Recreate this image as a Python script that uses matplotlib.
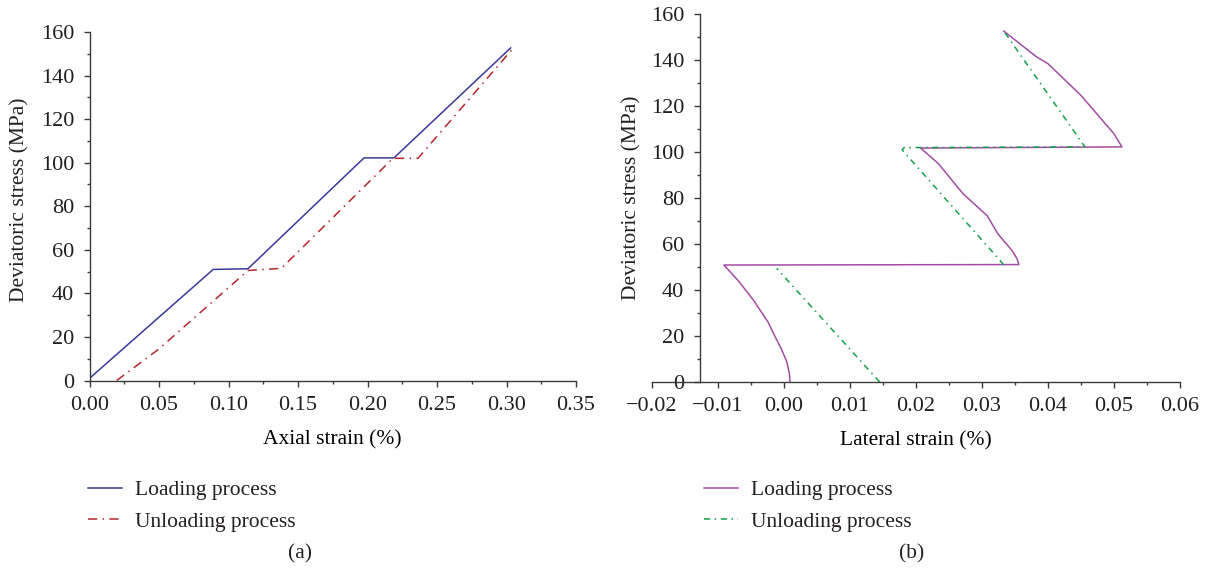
import matplotlib
matplotlib.use("Agg")
import matplotlib.pyplot as plt
from matplotlib.ticker import MultipleLocator, FixedLocator
import numpy as np

# ---- data: axial strain vs deviatoric stress (panel a) ----
axial_load_x = [0.0, 0.089, 0.114, 0.1975, 0.219, 0.303]
axial_load_y = [1.0, 51.0, 51.3, 102.2, 102.2, 152.7]
axial_unload_x = [0.0196, 0.050, 0.090, 0.114, 0.138, 0.2183, 0.2363, 0.305]
axial_unload_y = [0.0, 14.5, 37.0, 50.5, 51.5, 102.0, 102.0, 152.7]

# ---- data: lateral strain vs deviatoric stress (panel b) ----
lateral_load_x = [0.0009, 0.0008, 0.0004, -0.0005, -0.0014, -0.0024, -0.0046,
                  -0.0069, -0.0091, 0.0356, 0.0353, 0.0346, 0.0324, 0.0308,
                  0.0271, 0.0234, 0.0207, 0.0512, 0.0500, 0.0491, 0.0450,
                  0.0400, 0.0383, 0.0333]
lateral_load_y = [0.3, 4.0, 9.0, 15.0, 20.0, 26.0, 35.5,
                  44.0, 50.9, 51.1, 53.7, 57.0, 64.5, 72.3,
                  82.0, 95.0, 101.8, 102.3, 108.0, 111.0, 124.7,
                  138.5, 141.4, 152.7]
lateral_unload_x = [0.0145, -0.0011, np.nan, 0.0333, 0.0327, 0.0179, 0.0182,
                    0.0456, 0.0333]
lateral_unload_y = [0.0, 49.4, np.nan, 50.9, 53.0, 101.0, 102.0, 102.3, 152.7]

stress_ticks = list(range(0, 161, 20))
axial_ticks = [0.00, 0.05, 0.10, 0.15, 0.20, 0.25, 0.30, 0.35]
lateral_ticks = [-0.02, -0.01, 0.00, 0.01, 0.02, 0.03, 0.04, 0.05, 0.06]

labels = ["Loading process", "Unloading process"]
ylabel = "Deviatoric stress (MPa)"

plt.rcParams["font.family"] = ["Liberation Serif", "DejaVu Serif"]
plt.rcParams["text.color"] = "#231f20"

W, H = 1206, 576
fig = plt.figure(figsize=(W / 100, H / 100), dpi=100)

spine_col = "#3a3a3a"
tick_fs = 16
label_fs = 15.5


def style_axes(ax):
    for s in ("top", "right"):
        ax.spines[s].set_visible(False)
    for s in ("left", "bottom"):
        ax.spines[s].set_color(spine_col)
        ax.spines[s].set_linewidth(1.0)
    ax.tick_params(which="major", direction="out", length=4, width=1.0,
                   color=spine_col, labelsize=tick_fs, labelcolor="#231f20")
    ax.tick_params(axis="x", which="major", pad=7)
    ax.tick_params(axis="y", which="major", pad=7)
    ax.tick_params(which="minor", direction="out", length=2.5, width=1.0,
                   color=spine_col)


# panel (a)
ax1 = fig.add_axes([89.5 / W, 1 - 380.5 / H, (576 - 89.5) / W, 348.5 / H])
ax1.plot(axial_load_x, axial_load_y, color="#39399b", lw=1.1,
         label=labels[0])
ax1.plot(axial_unload_x, axial_unload_y, color="#b3262c", lw=1.1,
         linestyle=(0, (6, 3.5, 1, 3.5)), label=labels[1])
ax1.set_xlim(0, 0.35)
ax1.set_ylim(0, 160)
ax1.set_xticks(axial_ticks)
ax1.set_xticklabels([f"{t:.2f}" for t in axial_ticks])
ax1.set_yticks(stress_ticks)
ax1.xaxis.set_minor_locator(MultipleLocator(0.025))
ax1.yaxis.set_minor_locator(MultipleLocator(10))
style_axes(ax1)
ax1.set_xlabel("Axial strain (%)", fontsize=label_fs, labelpad=11)

# panel (b)
ax2 = fig.add_axes([652 / W, 1 - 382 / H, 528 / W, (382 - 14.3) / H])
ax2.plot(lateral_load_x, lateral_load_y, color="#a34ba6", lw=1.1,
         label=labels[0])
ax2.plot(lateral_unload_x, lateral_unload_y, color="#12a24a", lw=1.1,
         linestyle=(0, (4, 3, 1, 3)), label=labels[1])
ax2.set_xlim(-0.02, 0.06)
ax2.set_ylim(0, 160)
ax2.spines["left"].set_position(("data", -0.0128))
ax2.set_xticks(lateral_ticks)
ax2.set_xticklabels([f"{t:.2f}".replace("-", "\u2212") for t in lateral_ticks])
ax2.set_yticks(stress_ticks)
ax2.xaxis.set_minor_locator(FixedLocator(np.arange(-0.005, 0.06, 0.01)))
ax2.yaxis.set_minor_locator(MultipleLocator(10))
style_axes(ax2)
ax2.set_xlabel("Lateral strain (%)", fontsize=label_fs, labelpad=11)

fig.text(20 / W, 1 - 200 / H, ylabel, rotation=90, fontsize=label_fs,
         ha="center", va="center")
fig.text(632 / W, 1 - 198 / H, ylabel, rotation=90, fontsize=label_fs,
         ha="center", va="center")

leg_kw = dict(loc="upper left", frameon=False, fontsize=label_fs,
              handlelength=1.6, handletextpad=0.6, labelspacing=0.55,
              borderpad=0, borderaxespad=0)
ax1.legend(bbox_to_anchor=(88 / W, 1 - 480 / H),
           bbox_transform=fig.transFigure, **leg_kw)
ax2.legend(bbox_to_anchor=(704 / W, 1 - 480 / H),
           bbox_transform=fig.transFigure, **leg_kw)

fig.text(300 / W, 1 - 554 / H, "(a)", fontsize=label_fs, ha="center",
         va="center")
fig.text(912 / W, 1 - 554 / H, "(b)", fontsize=label_fs, ha="center",
         va="center")

fig.savefig("out.png", dpi=100)
